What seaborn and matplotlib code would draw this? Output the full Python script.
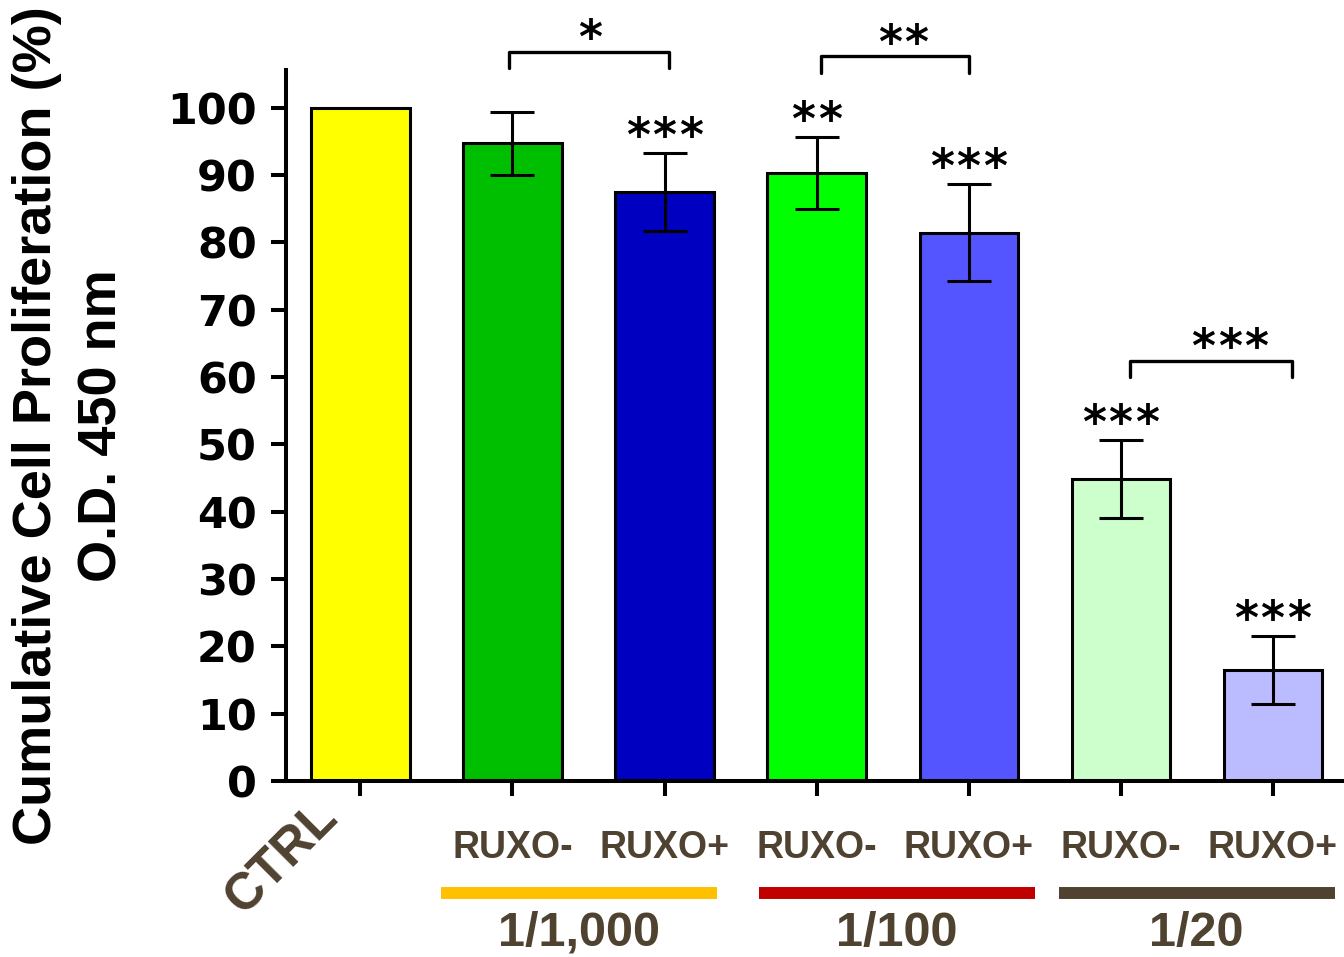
import matplotlib
matplotlib.use("Agg")
import matplotlib.pyplot as plt
import seaborn as sns
import pandas as pd

# data
categories = ["CTRL", "1/1,000 RUXO-", "1/1,000 RUXO+", "1/100 RUXO-", "1/100 RUXO+", "1/20 RUXO-", "1/20 RUXO+"]
tick_labels = ["CTRL", "RUXO-", "RUXO+", "RUXO-", "RUXO+", "RUXO-", "RUXO+"]
means = [100.0, 94.7, 87.5, 90.3, 81.4, 44.9, 16.5]
sds = [0.0, 4.7, 5.8, 5.3, 7.2, 5.8, 5.0]
bar_colors = ["#FFFF00", "#00BF00", "#0000C0", "#00FF00", "#5555FF", "#CCFFCC", "#BBBBFF"]
vs_ctrl = ["", "", "***", "**", "***", "***", "***"]

groups = ["1/1,000", "1/100", "1/20"]
group_colors = ["#FFC000", "#C00000", "#4F4230"]
pair_stars = ["*", "**", "***"]
pair_heights = [108.3, 107.6, 62.4]

# layout of the group underlines and comparison brackets (x in bar units)
group_centers = [1.44, 3.53, 5.50]
bracket_ends = [(0.98, 2.03), (3.03, 4.0), (5.06, 6.13)]
pair_star_x = [1.51, 3.57, 5.72]
star_pitch = 0.174

label_color = "#4F4230"

df = pd.DataFrame({"group": categories, "value": means})

sns.set_style("ticks")
plt.rcParams.update({"text.color": "black", "axes.labelcolor": "black",
                     "xtick.color": "black", "ytick.color": "black",
                     "axes.edgecolor": "black"})

fig = plt.figure(figsize=(13.44, 9.57), dpi=100)
ax = fig.add_axes([0.2128, 0.1839, 0.7872, 0.743])

sns.barplot(data=df, x="group", y="value", hue="group", palette=bar_colors,
            order=categories, hue_order=categories, width=0.645, legend=False,
            saturation=1, edgecolor="black", linewidth=2.2, errorbar=None,
            ax=ax, zorder=2)

xs = list(range(len(categories)))
for i in xs[1:]:
    ax.errorbar(i, means[i], yerr=sds[i], fmt="none", ecolor="black",
                elinewidth=2.2, capsize=15.5, capthick=2.2, zorder=3)

ax.set_xlim(-0.49, 6.47)
ax.set_ylim(0, 105.6)
ax.set_yticks(range(0, 101, 10))
ax.set_yticklabels([str(v) for v in range(0, 101, 10)],
                   fontsize=31, fontweight="bold", family="DejaVu Sans")
ax.set_xticks(xs)
ax.set_xticklabels([])
ax.set_xlabel("")
ax.set_ylabel("")
ax.tick_params(axis="both", length=11, width=2.9, color="black")
ax.tick_params(axis="y", pad=10)
for s in ["top", "right"]:
    ax.spines[s].set_visible(False)
for s in ["left", "bottom"]:
    ax.spines[s].set_linewidth(2.9)

trans = ax.get_xaxis_transform()


def stars(x, y, s):
    # asterisks drawn one by one so they keep the gap seen in the figure
    n = len(s)
    for k in range(n):
        ax.text(x + (k - (n - 1) / 2) * star_pitch, y, "*", ha="center",
                va="baseline", fontsize=33, fontweight="bold",
                family="DejaVu Sans", color="black", clip_on=False)


# bar labels under the axis
ax.text(-0.513, -0.108, tick_labels[0], transform=trans, rotation=45,
        ha="center", va="center", fontsize=37, fontweight="bold",
        family="Liberation Sans", color=label_color)
for i in xs[1:]:
    ax.text(i, -0.094, tick_labels[i], transform=trans, ha="center", va="center",
            fontsize=27, fontweight="bold", family="Liberation Sans", color=label_color)

# group bars and labels
for mid, name, col in zip(group_centers, groups, group_colors):
    ax.plot([mid - 0.908, mid + 0.908], [-0.1575, -0.1575], transform=trans,
            color=col, lw=8.6, solid_capstyle="butt", clip_on=False)
    ax.text(mid, -0.214, name, transform=trans, ha="center", va="center",
            fontsize=35, fontweight="bold", family="Liberation Sans", color=label_color)

# stars vs control
for i in xs:
    if vs_ctrl[i]:
        stars(i, means[i] + sds[i] + 0.3, vs_ctrl[i])

# pairwise brackets
for (left, right), sx, star, h in zip(bracket_ends, pair_star_x, pair_stars, pair_heights):
    ax.plot([left, left, right, right], [h - 2.4, h, h, h - 2.4],
            color="black", lw=2.4, clip_on=False)
    stars(sx, h - 0.2, star)

# y label, two lines
fig.text(37 / 1344, 0.555, "Cumulative Cell Proliferation (%)", rotation=90,
         ha="center", va="center", fontsize=39, fontweight="bold",
         family="Liberation Sans")
fig.text(103 / 1344, 0.555, "O.D. 450 nm", rotation=90,
         ha="center", va="center", fontsize=39, fontweight="bold",
         family="Liberation Sans")

fig.savefig("out.png", dpi=100)
